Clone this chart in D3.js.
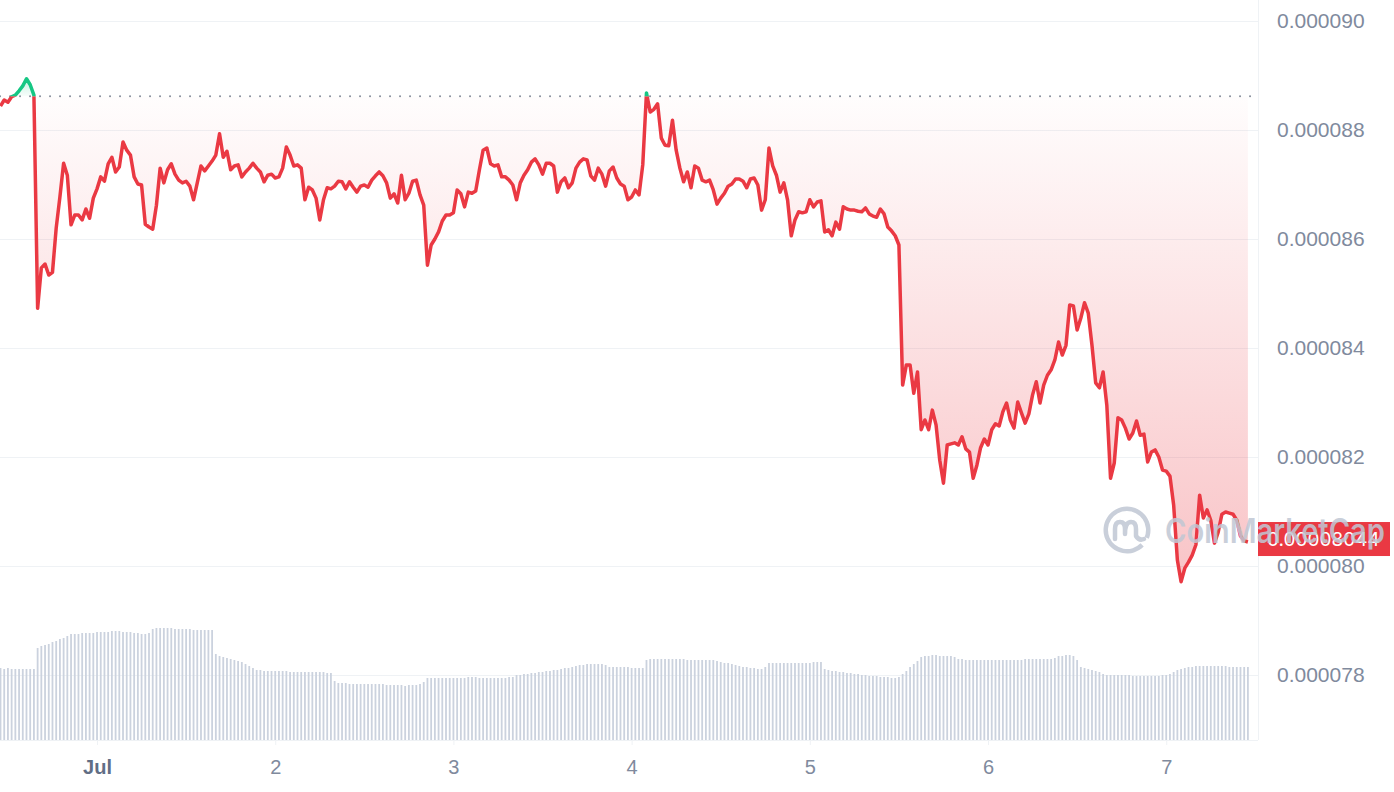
<!DOCTYPE html>
<html>
<head>
<meta charset="utf-8">
<script src="https://cdn.jsdelivr.net/npm/d3@7"></script>
<style>
  body { margin: 0; background: #fff; }
  svg { display: block; font-family: Inter, "Noto Sans", sans-serif; }
</style>
</head>
<body>
<svg id="chart"></svg>
<script>
// price samples every 30 minutes, starting Jun 30 11:00
const startTime = new Date(2023, 5, 30, 11, 0);
const stepMinutes = 30;
const openPrice = 88.62e-6;

// prices in millionths of a dollar
const prices = [
  88.44, 88.55, 88.51, 88.61, 88.64, 88.72, 88.81, 88.94, 88.83, 88.64,
  84.73, 85.47, 85.54, 85.34, 85.39, 86.20, 86.77, 87.39, 87.17, 86.26,
  86.44, 86.44, 86.35, 86.55, 86.38, 86.75, 86.92, 87.14, 87.06, 87.38,
  87.50, 87.23, 87.32, 87.78, 87.63, 87.54, 87.14, 87.01, 86.99, 86.27,
  86.22, 86.18, 86.62, 87.30, 87.03, 87.27, 87.38, 87.19, 87.08, 87.03,
  87.06, 86.97, 86.72, 87.03, 87.34, 87.25, 87.34, 87.43, 87.54, 87.93,
  87.50, 87.61, 87.27, 87.34, 87.36, 87.14, 87.23, 87.30, 87.39, 87.30,
  87.23, 87.05, 87.17, 87.19, 87.12, 87.14, 87.30, 87.69, 87.54, 87.34,
  87.36, 87.30, 86.72, 86.95, 86.90, 86.75, 86.35, 86.72, 86.94, 86.92,
  86.97, 87.06, 87.05, 86.92, 87.05, 86.95, 86.86, 86.97, 86.99, 86.95,
  87.08, 87.16, 87.23, 87.16, 87.03, 86.75, 86.83, 86.66, 87.17, 86.72,
  86.84, 87.06, 87.08, 86.81, 86.62, 85.52, 85.89, 86.00, 86.13, 86.33,
  86.44, 86.44, 86.48, 86.90, 86.83, 86.59, 86.86, 86.84, 86.88, 87.27,
  87.63, 87.67, 87.38, 87.34, 87.36, 87.14, 87.14, 87.08, 86.99, 86.72,
  87.03, 87.17, 87.27, 87.41, 87.47, 87.36, 87.19, 87.39, 87.39, 87.34,
  86.86, 87.05, 87.12, 86.94, 87.03, 87.30, 87.41, 87.47, 87.45, 87.16,
  87.08, 87.30, 87.19, 86.97, 87.25, 87.32, 87.12, 87.01, 86.97, 86.72,
  86.77, 86.90, 86.81, 87.36, 88.68, 88.33, 88.38, 88.48, 87.85, 87.72,
  87.71, 88.18, 87.63, 87.30, 87.05, 87.23, 86.94, 87.34, 87.30, 87.08,
  87.05, 87.08, 86.90, 86.64, 86.75, 86.84, 86.97, 87.01, 87.10, 87.10,
  87.06, 86.94, 87.10, 87.12, 86.99, 86.53, 86.72, 87.67, 87.34, 87.17,
  86.86, 87.03, 86.72, 86.06, 86.35, 86.50, 86.48, 86.50, 86.72, 86.59,
  86.68, 86.70, 86.13, 86.17, 86.06, 86.31, 86.18, 86.59, 86.55, 86.53,
  86.53, 86.51, 86.50, 86.57, 86.46, 86.42, 86.40, 86.55, 86.46, 86.22,
  86.15, 86.06, 85.89, 83.32, 83.69, 83.69, 83.17, 83.56, 82.50, 82.68,
  82.50, 82.86, 82.59, 81.94, 81.52, 82.22, 82.24, 82.26, 82.22, 82.37,
  82.15, 82.09, 81.61, 81.85, 82.17, 82.33, 82.22, 82.50, 82.61, 82.57,
  82.83, 82.99, 82.68, 82.53, 83.01, 82.81, 82.62, 82.79, 83.14, 83.38,
  82.99, 83.32, 83.50, 83.60, 83.78, 84.11, 83.87, 84.05, 84.79, 84.77,
  84.33, 84.55, 84.83, 84.64, 84.05, 83.36, 83.27, 83.56, 82.95, 81.61,
  81.89, 82.72, 82.68, 82.53, 82.33, 82.44, 82.66, 82.40, 82.42, 81.91,
  82.09, 82.13, 82.00, 81.76, 81.74, 81.65, 81.12, 80.11, 79.71, 79.96,
  80.07, 80.20, 80.39, 81.30, 80.88, 81.03, 80.84, 80.42, 80.62, 80.95,
  80.99, 80.97, 80.95, 80.84, 80.55, 80.46, 80.44
].map(v => v * 1e-6);

// 24h volume (relative units), same sampling as prices
const volumes = [
  72, 71, 72, 71, 71, 71, 71, 71, 71, 71,
  92, 94, 95, 96, 98, 99, 101, 102, 104,
  106, 106, 106, 107, 107, 107, 107, 108, 108, 108, 108, 109, 109, 109, 108,
  108, 108, 107, 107, 106, 106, 107,
  111, 112, 112, 112, 112, 112, 111, 111, 111, 111, 111, 110, 110, 110, 110, 110, 110,
  86, 84, 83, 82, 81, 80, 79, 78, 76, 74, 72,
  70, 70, 69, 69, 69, 69, 69, 69, 69, 68, 68, 68, 68, 68, 68, 68, 68, 68, 68, 67, 67,
  59, 57, 57, 57, 56, 56, 56, 56, 56, 56, 56, 56, 56, 56, 55, 55, 55, 55, 55, 54, 55, 55, 55,
  56, 58,
  62, 62, 62, 62, 62, 62, 62, 62, 62, 62, 62, 63, 63, 63, 62, 62, 62, 62, 62, 62, 62, 62, 63, 63,
  65, 65, 66, 66, 67, 67, 68, 68, 69, 69, 70, 70,
  71, 72, 72, 73, 74, 75, 75, 76, 76, 76, 76, 76, 75,
  73, 73, 73, 73, 73, 73, 72, 72, 72, 72,
  80, 81, 81, 81, 81, 81, 81, 81, 81, 81, 81, 80, 80, 80, 80, 80, 80, 80, 80, 79, 78,
  77, 77, 76, 75, 74, 73, 73, 72, 72,
  71, 71, 73,
  77, 77, 77, 77, 77, 77, 77, 77, 77, 77, 77, 77, 78, 78, 78,
  71, 70, 69, 69, 68, 68, 67, 67, 66, 66, 65, 65, 64, 64, 64, 63, 63, 63, 62, 62, 63,
  66, 69, 73, 76, 79,
  83, 84, 84, 85, 85, 84, 84, 84, 84, 83,
  81, 81, 80, 80, 80, 80, 80, 80, 80, 80, 80, 80, 80, 80, 80, 80, 80, 80, 81, 81, 81, 81, 81, 81, 81, 81, 82,
  84, 84, 85, 85, 84,
  80,
  73, 72, 71, 70, 69, 68,
  66, 65, 65, 65, 65, 65, 65, 65, 64, 64, 64, 64, 64, 64, 64, 64, 65, 65,
  66, 68, 70, 71, 72, 73, 73,
  74, 74, 74, 74, 74, 74, 74, 74, 74, 73, 73, 73, 73, 73, 73
];

const priceTicks = [0.000078, 0.000080, 0.000082, 0.000084, 0.000086, 0.000088, 0.000090];
const dayTicks = [1, 2, 3, 4, 5, 6, 7].map(d => new Date(2023, 6, d));
const dayLabels = ["Jul", "2", "3", "4", "5", "6", "7"];

const width = 1394, height = 792;
const plotRight = 1258, plotBottom = 740;
const RED = "#ea3943", GREEN = "#16c784", GRID = "#eff2f5", LABEL = "#808a9d";

const n = Math.min(prices.length, volumes.length);
const data = d3.range(n).map(i => ({
  t: new Date(startTime.getTime() + i * stepMinutes * 60000),
  p: prices[i],
  v: volumes[i]
}));

const svg = d3.select("#chart")
  .attr("width", width)
  .attr("height", height);

const x = d3.scaleTime()
  .domain([startTime, d3.timeHour.offset(startTime, 168)])
  .range([0.5, 1247.9]);

const y = d3.scaleLinear()
  .domain([0.000078, 0.000090])
  .range([675, 21]);

const yVol = d3.scaleLinear()
  .domain([0, 130])
  .range([plotBottom, 610]);

const baseY = y(openPrice);

// gradients + clips
const defs = svg.append("defs");
const redGrad = defs.append("linearGradient")
  .attr("id", "redGrad")
  .attr("gradientUnits", "userSpaceOnUse")
  .attr("x1", 0).attr("x2", 0)
  .attr("y1", baseY).attr("y2", y(d3.min(prices)));
redGrad.append("stop").attr("offset", 0).attr("stop-color", RED).attr("stop-opacity", 0.01);
redGrad.append("stop").attr("offset", 1).attr("stop-color", RED).attr("stop-opacity", 0.3);

const greenGrad = defs.append("linearGradient")
  .attr("id", "greenGrad")
  .attr("gradientUnits", "userSpaceOnUse")
  .attr("x1", 0).attr("x2", 0)
  .attr("y1", y(d3.max(prices))).attr("y2", baseY);
greenGrad.append("stop").attr("offset", 0).attr("stop-color", GREEN).attr("stop-opacity", 0.25);
greenGrad.append("stop").attr("offset", 1).attr("stop-color", GREEN).attr("stop-opacity", 0.03);

defs.append("clipPath").attr("id", "clipAbove")
  .append("rect").attr("x", -5).attr("y", 0).attr("width", plotRight + 5).attr("height", baseY);
defs.append("clipPath").attr("id", "clipBelow")
  .append("rect").attr("x", -5).attr("y", baseY).attr("width", plotRight + 5).attr("height", plotBottom - baseY);

// grid
svg.append("g")
  .selectAll("line")
  .data(priceTicks)
  .join("line")
  .attr("x1", 0)
  .attr("x2", plotRight)
  .attr("y1", d => Math.round(y(d)) + 0.5)
  .attr("y2", d => Math.round(y(d)) + 0.5)
  .attr("stroke", GRID);

svg.append("line")
  .attr("x1", plotRight + 0.5).attr("x2", plotRight + 0.5)
  .attr("y1", 0).attr("y2", plotBottom)
  .attr("stroke", GRID);

svg.append("line")
  .attr("x1", 0).attr("x2", plotRight)
  .attr("y1", plotBottom + 0.5).attr("y2", plotBottom + 0.5)
  .attr("stroke", GRID);

// volume bars
svg.append("g")
  .selectAll("rect")
  .data(data)
  .join("rect")
  .attr("x", d => x(d.t) - 0.9)
  .attr("width", 1.8)
  .attr("y", d => yVol(d.v))
  .attr("height", d => plotBottom - yVol(d.v))
  .attr("fill", "#cbd2de");

// area + line, split at the open price
const area = d3.area()
  .x(d => x(d.t))
  .y0(baseY)
  .y1(d => y(d.p));

const line = d3.line()
  .x(d => x(d.t))
  .y(d => y(d.p));

svg.append("path")
  .datum(data)
  .attr("d", area)
  .attr("fill", "url(#redGrad)")
  .attr("clip-path", "url(#clipBelow)");

svg.append("path")
  .datum(data)
  .attr("d", area)
  .attr("fill", "url(#greenGrad)")
  .attr("clip-path", "url(#clipAbove)");

svg.append("line")
  .attr("x1", 0).attr("x2", plotRight)
  .attr("y1", baseY).attr("y2", baseY)
  .attr("stroke", "#8c93a0")
  .attr("stroke-width", 2)
  .attr("stroke-linecap", "round")
  .attr("stroke-dasharray", "0.1,9.9");

svg.append("path")
  .datum(data)
  .attr("d", line)
  .attr("fill", "none")
  .attr("stroke", RED)
  .attr("stroke-width", 3.5)
  .attr("stroke-linejoin", "round")
  .attr("clip-path", "url(#clipBelow)");

svg.append("path")
  .datum(data)
  .attr("d", line)
  .attr("fill", "none")
  .attr("stroke", GREEN)
  .attr("stroke-width", 3.5)
  .attr("stroke-linejoin", "round")
  .attr("clip-path", "url(#clipAbove)");

// axes
const yAxis = svg.append("g")
  .attr("transform", `translate(${plotRight},0)`)
  .call(d3.axisRight(y)
    .tickValues(priceTicks)
    .tickFormat(d3.format(".6f"))
    .tickSize(0)
    .tickPadding(19));
yAxis.select(".domain").remove();
yAxis.selectAll("text")
  .attr("fill", LABEL)
  .style("font-size", "21px");

const xAxis = svg.append("g")
  .attr("transform", `translate(0,${plotBottom})`)
  .call(d3.axisBottom(x)
    .tickValues(dayTicks)
    .tickFormat((d, i) => dayLabels[i])
    .tickSize(5)
    .tickPadding(15));
xAxis.select(".domain").remove();
xAxis.selectAll("line").attr("stroke", GRID);
xAxis.selectAll("text")
  .attr("fill", LABEL)
  .style("font-size", "20px");
xAxis.selectAll("text")
  .filter((d, i) => i === 0)
  .attr("fill", "#616e85")
  .style("font-weight", "700");

// last price tag
const last = data[data.length - 1];
const tag = svg.append("g")
  .attr("transform", `translate(${plotRight},${y(last.p) - 3})`);
tag.append("rect")
  .attr("x", 0)
  .attr("y", -17)
  .attr("width", 132)
  .attr("height", 34)
  .attr("fill", RED);
tag.append("text")
  .attr("x", 9)
  .attr("dy", "0.35em")
  .attr("fill", "#fff")
  .style("font-size", "19px")
  .text(d3.format(".8f")(last.p));

// watermark
const wmColor = "#c0c7d4";
const wm = svg.append("g")
  .attr("transform", "translate(1127,530)")
  .attr("opacity", 0.85);
wm.append("path")
  .attr("d", d3.arc()({ innerRadius: 19, outerRadius: 23.5, startAngle: 2.35, endAngle: 2 * Math.PI + 1.95 }))
  .attr("fill", wmColor);
wm.append("path")
  .attr("d", "M-12,9 L-12,-1 Q-12,-8 -7,-8 Q-2,-8 -2,-1 L-2,4 Q-2,-8 4,-8 Q9,-8 9,-1 L9,6 Q12,11 17,9")
  .attr("fill", "none")
  .attr("stroke", wmColor)
  .attr("stroke-width", 4.5)
  .attr("stroke-linecap", "round")
  .attr("stroke-linejoin", "round");
wm.append("text")
  .attr("x", 38)
  .attr("y", 13)
  .attr("fill", wmColor)
  .attr("textLength", 220)
  .attr("lengthAdjust", "spacingAndGlyphs")
  .style("font-size", "34px")
  .style("font-weight", "600")
  .text("CoinMarketCap");
</script>
</body>
</html>
